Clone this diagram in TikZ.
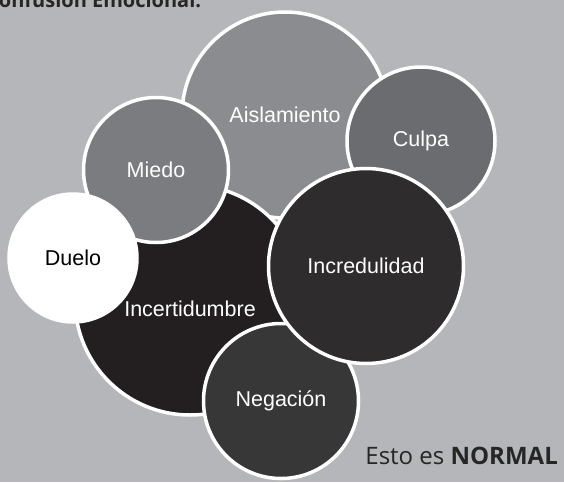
\documentclass[tikz,border=0pt]{standalone}
\usepackage{fontspec}
\setmainfont{Liberation Sans}
\newfontfamily\opensans{Open Sans}
\definecolor{fondo}{HTML}{B5B6B9}
\definecolor{grisclaro}{HTML}{8B8C8F}
\definecolor{grismedio}{HTML}{7B7C7F}
\definecolor{grisoscuro}{HTML}{6B6C6F}
\definecolor{negro}{HTML}{231F20}
\definecolor{carbon}{HTML}{2E2C2D}
\definecolor{pizarra}{HTML}{373737}

\begin{document}
\begin{tikzpicture}[x=1pt, y=-1pt,
	burbuja/.style = {circle, draw=white, line width=3.5pt, inner sep=0pt, text=white,
		font=\fontsize{21.5}{25}\selectfont, minimum size=#1}]
	\clip (0,0) rectangle (564,482);
	\fill[fondo] (0,0) rectangle (564,482);
	% titulo (cortado por el borde)
	\node[anchor=base west, font=\opensans\bfseries\fontsize{20}{24}\selectfont, text=black!85, inner sep=0pt] (titulo) at (-14,7) {Confusión Emocional:};
	% burbujas, de atras hacia adelante
	\node[burbuja=206pt, fill=grisclaro] (aislamiento) at (285,115) {Aislamiento};
	\node[burbuja=148pt, fill=grisoscuro] (culpa) at (421,141) {Culpa};
	\node[burbuja=230pt, fill=negro] (incertidumbre) at (190,300) {};
	\node[burbuja=145pt, fill=grismedio] (miedo) at (156,170) {Miedo};
	\node[burbuja=128pt, fill=white, text=black] (duelo) at (73,258) {Duelo};
	\node[text=white, font=\fontsize{21.5}{25}\selectfont] (lbincert) at (190,309) {Incertidumbre};
	\node[burbuja=155pt, fill=pizarra] (negacion) at (281,401) {Negación};
	\node[burbuja=195pt, fill=carbon] (incredulidad) at (366,266) {Incredulidad};
	% pie
	\node[anchor=base east, font=\opensans\fontsize{24}{28}\selectfont, text=black!85, inner sep=0pt] (pie) at (558,464) {Esto es \textbf{NORMAL}};
\end{tikzpicture}
\end{document}
